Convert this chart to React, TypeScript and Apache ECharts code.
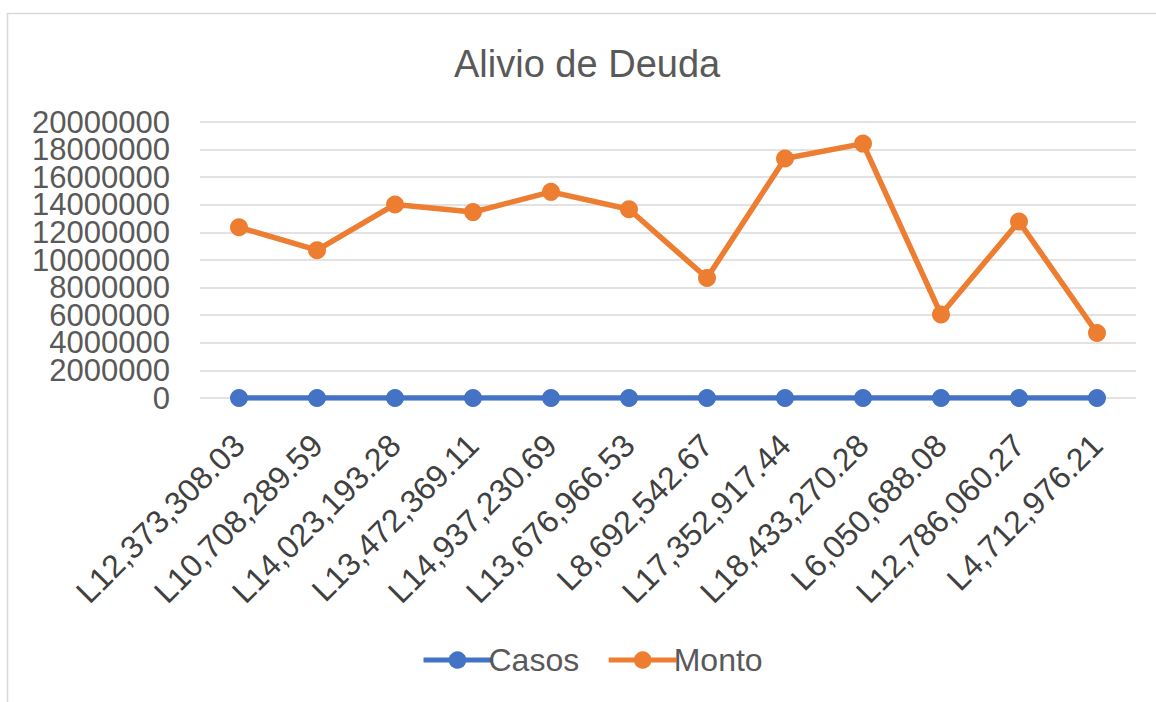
import React, { useEffect, useRef } from "react";
import * as echarts from "echarts";

const categories = [
  "L12,373,308.03",
  "L10,708,289.59",
  "L14,023,193.28",
  "L13,472,369.11",
  "L14,937,230.69",
  "L13,676,966.53",
  "L8,692,542.67",
  "L17,352,917.44",
  "L18,433,270.28",
  "L6,050,688.08",
  "L12,786,060.27",
  "L4,712,976.21",
];
const casos = [312, 287, 356, 341, 389, 352, 224, 448, 471, 158, 329, 121];
const monto = [
  12373308.03, 10708289.59, 14023193.28, 13472369.11, 14937230.69, 13676966.53,
  8692542.67, 17352917.44, 18433270.28, 6050688.08, 12786060.27, 4712976.21,
];
const yMin = 0;
const yMax = 20000000;
const yStep = 2000000;

const FONT = "Liberation Sans, Arial, sans-serif";

const yLabelStyle = {
  margin: 30,
  fontFamily: FONT,
  fontSize: 31,
  color: "#595959",
};

export default function App() {
  const ref = useRef<HTMLDivElement>(null);
  useEffect(() => {
    if (!ref.current) return;
    const chart = echarts.init(ref.current, undefined, { renderer: "svg" });
    chart.setOption({
      animation: false,
      backgroundColor: "#ffffff",
      textStyle: { fontFamily: FONT },
      title: {
        text: "Alivio de Deuda",
        left: 449,
        top: 40,
        textStyle: { fontFamily: FONT, fontSize: 38, fontWeight: "normal", color: "#595959" },
      },
      graphic: [
        {
          type: "rect",
          shape: { x: 7.5, y: 13.5, width: 1160, height: 700 },
          style: { fill: "none", stroke: "#d9d9d9", lineWidth: 1.5 },
          silent: true,
          z: -1,
        },
      ],
      legend: {
        bottom: 21,
        left: 416,
        itemWidth: 68,
        itemHeight: 22,
        itemGap: 27,
        lineStyle: { width: 5 },
        textStyle: { fontFamily: FONT, fontSize: 32, color: "#595959", padding: [0, 0, 0, -8] },
        data: ["Casos", "Monto"],
      },
      grid: { left: 200, right: 20, top: 122, bottom: 304, containLabel: false },
      xAxis: {
        type: "category",
        data: categories,
        boundaryGap: true,
        axisLine: { show: false },
        axisTick: { show: false },
        axisLabel: {
          rotate: 45,
          margin: 42,
          interval: 0,
          fontFamily: FONT,
          fontSize: 32,
          color: "#404040",
        },
      },
      yAxis: [
        {
          type: "value",
          position: "left",
          min: yMin,
          max: yMax,
          interval: yStep * 2,
          axisLine: { show: false },
          axisTick: { show: false },
          splitLine: { show: false },
          axisLabel: {
            ...yLabelStyle,
            showMinLabel: true,
            showMaxLabel: true,
            formatter: (v: number) => String(v),
          },
        },
        {
          type: "value",
          position: "left",
          offset: 0,
          min: yMin,
          max: yMax,
          interval: yStep,
          axisLine: { show: false },
          axisTick: { show: false },
          splitLine: { show: true, lineStyle: { color: "#d9d9d9", width: 1.5 } },
          axisLabel: {
            ...yLabelStyle,
            showMinLabel: false,
            showMaxLabel: false,
            formatter: (v: number) => (Math.round(v / yStep) % 2 === 1 ? String(v) : ""),
          },
        },
      ],
      series: [
        {
          name: "Casos",
          type: "line",
          yAxisIndex: 0,
          data: casos,
          symbol: "circle",
          symbolSize: 18,
          lineStyle: { width: 5.5, color: "#4472C4" },
          itemStyle: { color: "#4472C4" },
        },
        {
          name: "Monto",
          type: "line",
          yAxisIndex: 0,
          data: monto,
          symbol: "circle",
          symbolSize: 18,
          lineStyle: { width: 5.5, color: "#ED7D31" },
          itemStyle: { color: "#ED7D31" },
        },
      ],
    });
    return () => chart.dispose();
  }, []);
  return (
    <div
      ref={ref}
      style={{ position: "fixed", left: 0, top: 0, width: 1156, height: 702 }}
    />
  );
}
